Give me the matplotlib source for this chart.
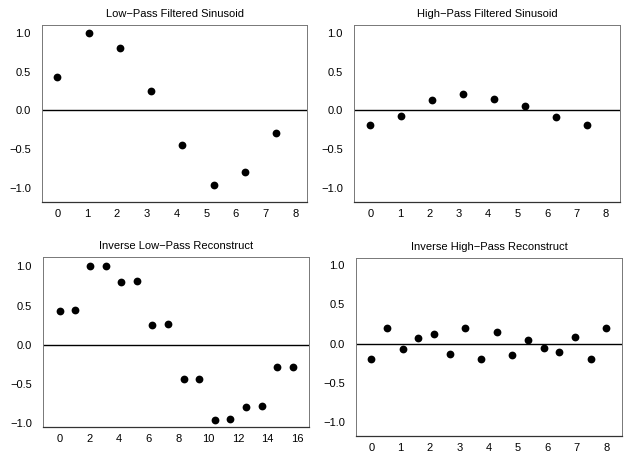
import matplotlib
matplotlib.use('Agg')
import matplotlib.pyplot as plt

plt.rcParams.update({
    'font.family': ['Liberation Sans', 'DejaVu Sans'],
    'font.size': 8,
})

# --- data ---
lp_x = [0, 1.05, 2.1, 3.15, 4.2, 5.25, 6.3, 7.35]
lp_y = [0.43, 1.0, 0.80, 0.25, -0.45, -0.96, -0.79, -0.29]

hp_x = [0, 1.05, 2.1, 3.15, 4.2, 5.25, 6.3, 7.35]
hp_y = [-0.19, -0.07, 0.13, 0.21, 0.15, 0.06, -0.09, -0.19]

ilp_x = [0, 1.05, 2.05, 3.1, 4.15, 5.2, 6.25, 7.3, 8.35, 9.4,
         10.45, 11.5, 12.55, 13.6, 14.65, 15.7]
ilp_y = [0.43, 0.44, 1.0, 1.0, 0.80, 0.81, 0.25, 0.26, -0.44, -0.44,
         -0.96, -0.95, -0.79, -0.78, -0.29, -0.29]

ihp_x = [0, 0.53, 1.07, 1.6, 2.13, 2.67, 3.2, 3.73, 4.27, 4.8,
         5.33, 5.87, 6.4, 6.93, 7.47, 8.0]
ihp_y = [-0.2, 0.2, -0.07, 0.07, 0.12, -0.13, 0.2, -0.2, 0.15, -0.15,
         0.05, -0.05, -0.1, 0.09, -0.2, 0.2]

y_ticks = [-1.0, -0.5, 0.0, 0.5, 1.0]
y_labels = ['\u22121.0', '\u22120.5', '0.0', '0.5', '1.0']
x_ticks_8 = [0, 1, 2, 3, 4, 5, 6, 7, 8]
x_ticks_16 = [0, 2, 4, 6, 8, 10, 12, 14, 16]

W, H = 630, 453
fig = plt.figure(figsize=(6.3, 4.53), dpi=100)


def make_axes(left, right, top, bottom):
    # pixel box -> figure fraction
    return fig.add_axes([left / W, 1 - bottom / H, (right - left) / W, (bottom - top) / H])


panels = [
    # (box px), title, x, y, xticks, xlim, ylim
    ((42, 307, 25, 202), "Low\u2212Pass Filtered Sinusoid", lp_x, lp_y, x_ticks_8, (-0.52, 8.39), (-1.18, 1.10)),
    ((354, 620, 25, 202), "High\u2212Pass Filtered Sinusoid", hp_x, hp_y, x_ticks_8, (-0.56, 8.48), (-1.18, 1.10)),
    ((43, 309, 257, 427), "Inverse Low\u2212Pass Reconstruct", ilp_x, ilp_y, x_ticks_16, (-1.11, 16.78), (-1.05, 1.12)),
    ((356, 622, 258, 436), "Inverse High\u2212Pass Reconstruct", ihp_x, ihp_y, x_ticks_8, (-0.52, 8.54), (-1.175, 1.09)),
]

for box, title, xs, ys, xt, xl, yl in panels:
    ax = make_axes(*box)
    ax.plot(xs, ys, 'o', color='black', markersize=5.6, markeredgewidth=0)
    ax.axhline(0, color='black', lw=1.0)
    ax.set_xlim(*xl)
    ax.set_ylim(*yl)
    ax.set_xticks(xt)
    ax.set_yticks(y_ticks)
    ax.set_yticklabels(y_labels)
    ax.tick_params(length=0, pad=8, labelsize=8)
    ax.tick_params(axis='x', pad=5)
    for side in ['left', 'top', 'right']:
        ax.spines[side].set_color('#777777')
        ax.spines[side].set_linewidth(0.7)
    ax.spines['bottom'].set_color('#333333')
    ax.spines['bottom'].set_linewidth(0.9)
    ax.set_title(title, fontsize=8, pad=6)

plt.savefig('out.png', dpi=100)
